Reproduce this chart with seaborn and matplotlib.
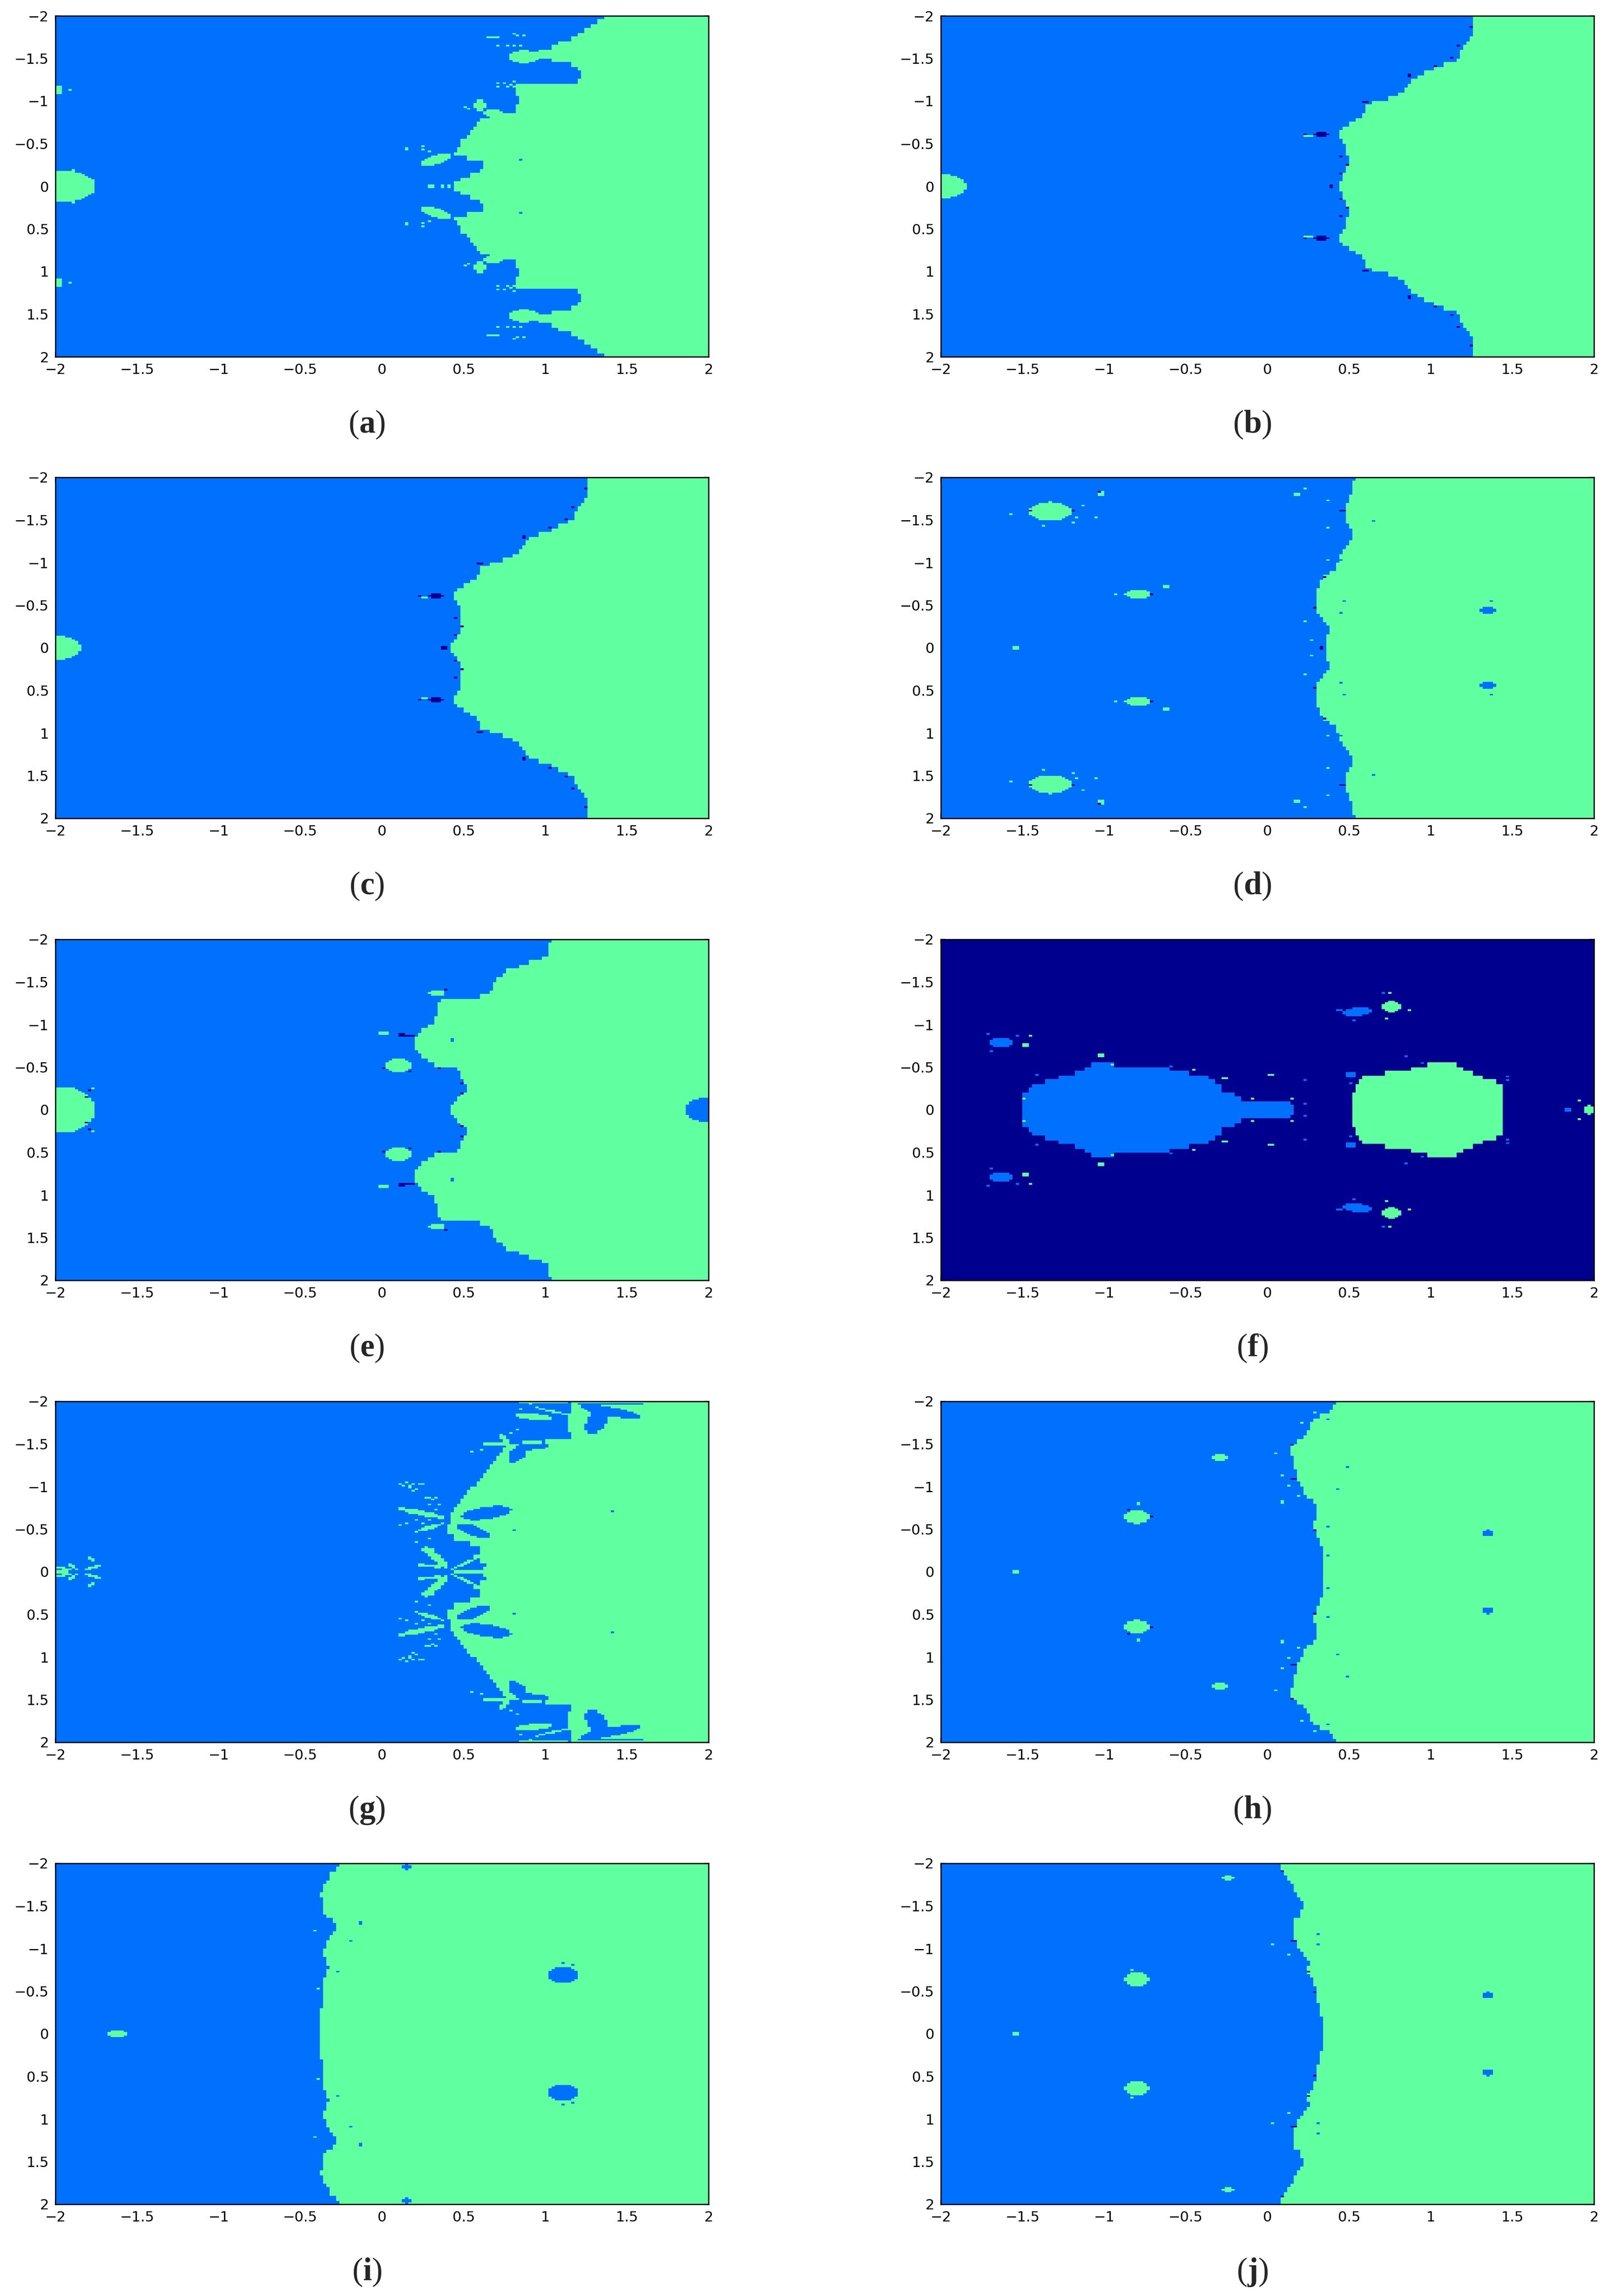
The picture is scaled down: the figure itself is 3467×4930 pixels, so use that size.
"""Ten basin-of-attraction panels drawn as seaborn heatmaps.

Every panel is symmetric about y = 0, so only the lower half is traced from the
picture and mirrored. Blue lies left of the boundary, green right of it, and
the traced blobs (x, y, half width, half height, angle) go on top.
"""

import matplotlib

matplotlib.use("Agg")
import matplotlib.pyplot as plt
import numpy as np
import seaborn as sns
from matplotlib.colors import ListedColormap

NAVY, BLUE, GREEN = 0, 1, 2
COLORS = ["#00008F", "#0070FF", "#60FF9F"]
TICKS = [-2, -1.5, -1, -0.5, 0, 0.5, 1, 1.5, 2]
LETTERS = list("abcdefghij")

# green starts at this x, one value per 0.05 of |y| from y = 0 to y = 2
boundary_a = [.44, .49, .54, .60, .63, .63, .52, .44, .46, .48, .49, .52, .54, .56, .58, .60, .66, .83, .83, .84,
              .84, .82, .82, .82, 1.21, 1.22, 1.22, 1.21, 1.17, 1.05, .96, .97, 1.05, 1.09, 1.16, 1.21, 1.25, 1.29, 1.33, 1.37]
boundary_b = [.44, .46, .47, .48, .49, .50, .50, .49, .485, .48, .47, .45, .44, .47, .51, .55, .58, .60, .61, .65,
              .74, .81, .85, .87, .89, .92, .97, 1.03, 1.09, 1.16, 1.19, 1.19, 1.21, 1.23, 1.25, 1.27, 1.27, 1.27, 1.27, 1.27]
boundary_c = [.43, .45, .47, .48, .49, .49, .49, .49, .49, .485, .47, .45, .44, .47, .51, .55, .58, .60, .61, .66,
              .74, .80, .85, .87, .89, .91, .97, 1.04, 1.09, 1.15, 1.19, 1.19, 1.20, 1.23, 1.25, 1.27, 1.27, 1.27, 1.27, 1.27]
boundary_d = [.36, .36, .37, .38, .38, .37, .35, .33, .31, .30, .30, .30, .30, .31, .32, .33, .35, .39, .42, .43,
              .44, .45, .47, .49, .51, .52, .52, .52, .50, .49, .49, .48, .48, .49, .50, .51, .52, .525, .53, .54]
boundary_e = [.43, .44, .46, .49, .52, .52, .50, .49, .49, .47, .33, .28, .25, .22, .21, .21, .21, .23, .24, .28,
              .32, .33, .34, .34, .34, .37, .60, .66, .68, .69, .71, .75, .77, .84, .90, .99, 1.02, 1.02, 1.03, 1.04]
boundary_g = [.62, .64, .60, .56, .61, .61, .55, .44, .44, .44, .44, .43, .43, .43, .44, .46, .48, .50, .53, .55,
              .58, .61, .63, .65, .66, .68, .70, .72, .74, .76, 1.0, 1.16, 1.16, 1.16, 1.16, 1.16, 1.16, 1.16, 1.17, 1.17]
boundary_h = [.35, .35, .345, .335, .335, .335, .33, .32, .30, .295, .29, .29, .30, .31, .31, .295, .28, .25, .23, .22,
              .20, .19, .18, .175, .17, .165, .16, .15, .145, .15, .18, .22, .25, .26, .27, .29, .33, .38, .41, .42]
boundary_i = [-.375, -.375, -.375, -.375, -.37, -.375, -.355, -.355, -.355, -.355, -.355, -.355, -.35, -.34, -.33, -.32, -.33, -.34, -.355, -.355,
              -.345, -.33, -.31, -.295, -.28, -.28, -.30, -.33, -.35, -.355, -.36, -.365, -.37, -.36, -.35, -.33, -.32, -.31, -.285, -.26]
boundary_j = [.34, .34, .34, .335, .33, .32, .315, .31, .305, .30, .295, .29, .275, .26, .25, .25, .255, .25, .225, .20,
              .19, .18, .17, .16, .155, .155, .17, .20, .21, .215, .215, .21, .19, .17, .155, .14, .125, .10, .08, .075]

# panel f has no boundary, two islands on navy, one span per 0.05 of |y|
blue_left_f = [-1.50, -1.49, -1.49, -1.49, -1.45, -1.43, -1.36, -1.27, -1.17, -1.12, -1.07]
blue_right_f = [.166, .144, -.16, -.20, -.27, -.28, -.315, -.36, -.47, -.60, -.93]
green_left_f = [.524, .53, .53, .53, .54, .545, .555, .59, .72, .89, .98]
green_right_f = [1.436, 1.44, 1.45, 1.45, 1.45, 1.45, 1.41, 1.32, 1.27, 1.205, 1.17]

# blobs: x, y, half width, half height, angle in degrees
green_a = [(-1.98, 0, .23, .19, 0), (-1.95, 0, .1, .185, 0), (.33, .31, .11, .045, 35), (.60, .95, .035, .07, 0),
           (.68, .86, .06, .035, 0), (.87, 1.52, .10, .075, 0), (.97, 1.56, .06, .03, 0), (-1.98, 1.13, .02, .05, 0),
           (.68, 1.75, .04, .012, 0), (.15, .44, .025, .012, 0)]
green_b = [(-2, 0, .16, .14, 0), (.25, .595, .03, .008, 0), (.32, .66, .006, .02, 0), (1.1, 1.98, .04, .01, 0)]
green_c = [(-2, 0, .16, .14, 0), (.26, .595, .03, .008, 0), (.32, .66, .006, .02, 0), (1.1, 1.98, .04, .01, 0)]
green_d = [(-1.33, 1.6, .128, .11, 0), (-.795, .63, .075, .052, 0), (-1.02, 1.81, .025, .022, 0), (-1.54, 0, .025, .015, 0),
           (-.62, .72, .018, .015, 0), (.18, 1.8, .025, .03, 0), (.08, .62, .015, .012, 0)]
green_e = [(-1.98, 0, .23, .26, 0), (-1.93, 0, .16, .26, 0), (-1.77, .24, .02, .01, 0), (.10, .52, .09, .075, 0),
           (.01, .90, .03, .025, 0), (.335, 1.37, .05, .04, 0)]
green_f = [(-1.48, .76, .03, .03, 0), (.76, 1.21, .055, .065, 0), (1.97, 0, .035, .06, 0), (-1.02, .635, .02, .025, 0),
           (.02, .41, .02, .012, 0)]
green_g = [(-1.96, 0, .04, .02, 0), (-1.95, .04, .05, .015, -20), (-1.885, .05, .06, .012, -55), (-1.77, .05, .07, .012, 30),
           (-1.78, .15, .03, .01, -60), (.53, 0, .11, .015, 0), (.51, .10, .12, .012, 40), (.29, .07, .09, .017, -8),
           (.33, .17, .15, .03, 120), (.28, .26, .04, .03, 0), (.42, .5, .012, .1, 0), (.24, .69, .15, .03, -22),
           (.29, .52, .10, .02, 30), (.47, .69, .10, .012, 70), (.69, 1.5, .09, .015, 0), (.75, 1.56, .08, .015, -67),
           (.93, 1.82, .12, .035, -10), (1.05, 1.88, .12, .01, -25), (1.16, 1.75, .012, .19, 0), (1.0, 1.99, .15, .012, 0),
           (.92, 1.52, .1, .012, 0)]
green_h = [(-.80, .645, .075, .078, 0), (-.29, 1.34, .045, .045, 0), (-1.54, 0, .025, .02, 0), (.095, .82, .015, .012, 0),
           (-.79, .80, .006, .015, 0)]
green_i = [(-1.62, 0, .055, .05, 0)]
green_j = [(-.80, .64, .075, .08, 0), (-.24, 1.83, .035, .035, 0), (-1.54, 0, .02, .02, 0), (0, 1.22, .015, .012, 0)]

blue_d = [(1.35, .44, .045, .035, 0), (.72, 1.7, .015, .012, 0)]
blue_e = [(2, 0, .14, .15, 0), (.43, .82, .012, .02, 0)]
blue_f = [(-1.63, .79, .07, .055, 0), (.55, 1.15, .09, .05, 15), (1.84, 0, .03, .03, 0), (.51, .41, .03, .035, 0)]
blue_g = [(.56, .48, .13, .05, -35), (.64, .69, .16, .07, 18), (.83, 1.38, .10, .05, 70), (.92, 1.47, .10, .04, 5),
          (1.32, 1.78, .17, .06, 75), (1.4, 1.88, .2, .05, -21), (1.4, 1.97, .2, .02, 0)]
blue_h = [(1.35, .455, .04, .035, 0), (.49, 1.23, .015, .006, 0)]
blue_i = [(1.11, .69, .09, .095, 0), (.15, 1.96, .03, .035, 0)]
blue_j = [(1.35, .455, .03, .035, 0)]

navy_b = [(-1.80, 0, .015, .012, 0), (.33, .61, .05, .025, 0), (.41, .60, .04, .006, 0), (.39, 0, .025, .012, 0),
          (.60, .99, .012, .012, 0), (.87, 1.30, .03, .012, 0)]
navy_c = [(-1.80, 0, .015, .012, 0), (.34, .61, .05, .025, 0), (.41, .60, .04, .006, 0), (.38, 0, .025, .012, 0),
          (.60, .99, .012, .012, 0), (.87, 1.30, .03, .012, 0)]
navy_d = [(.46, 1.61, .015, .012, 0), (.29, .47, .012, .012, 0)]
navy_e = [(.15, .875, .05, .012, 0), (.12, .88, .018, .018, 0)]
navy_h = [(.165, 1.09, .02, .02, 0)]
navy_j = [(.165, 1.09, .022, .004, 0)]

# single cells: x, y
green_dots_a = [(-1.92, 1.12), (.25, .47), (.28, .40), (.24, .42), (.50, .92), (.52, .90), (.29, 0), (.31, 0), (.37, 0), (.40, 0),
                (.80, 1.78), (.83, 1.76), (.86, 1.76), (.72, 1.65), (.76, 1.65), (.80, 1.65), (.85, 1.65), (.70, 1.21),
                (.74, 1.21), (.78, 1.19), (.80, 1.22), (.72, 1.18), (.76, 1.18), (.80, 1.17), (.75, 1.2), (-1.9, .18)]
green_dots_d = [(-1.57, 1.56), (-1.14, 1.67), (-1.05, 1.53), (-1.17, 1.53), (-1.2, 1.47), (-1.38, 1.42), (-.93, .62), (.23, 1.87),
                (.23, .3), (.27, .08), (.37, 1.72), (.37, 1.4), (.37, 1.02)]
green_dots_f = [(-1.45, .86), (-1.5, .12), (.74, 1.37), (.87, 1.18), (.73, 1.07), (.14, .13), (-.09, .13), (-.25, .36), (-.27, .37),
                (1.9, .1), (-.95, .53), (-.46, .47), (.03, .4)]
green_dots_g = [(.10, 1.03), (.13, 1.0), (.16, .98), (.18, 1.02), (.15, 1.05), (.20, .97), (.22, 1.03), (.17, 1.0), (.25, 1.02),
                (.18, .95), (.27, .86), (.31, .85), (.34, .87), (.29, .87), (.14, .58), (.2, .6), (.25, .58), (.3, .61),
                (.1, .55), (.2, .35), (.3, .38), (.33, .73), (.36, .78), (.28, .78), (.55, .98), (.58, 1.0), (.6, 1.08),
                (.63, 1.15), (.66, 1.2), (.55, 1.4), (.6, 1.42), (.82, 1.67), (.78, 1.62), (.9, 1.97), (.85, 1.9)]
green_dots_h = [(.04, 1.39), (.21, 1.75), (.29, 1.87), (.08, 1.14), (.13, 1.01), (.18, .88)]
green_dots_i = [(-.42, 1.2), (-.39, .52)]
green_dots_j = [(.12, .94), (.03, 1.04), (.12, 1.93), (-.84, .75)]

blue_dots_a = [(1.08, 1.36), (1.1, 1.33), (.85, .3)]
blue_dots_d = [(.65, 1.48), (1.37, .55), (.45, .4), (.46, .55), (.45, 1.02)]
blue_dots_f = [(-1.71, .89), (-1.69, .68), (-1.53, .87), (.53, 1.05), (.43, 1.18), (.45, 1.18), (.85, .62), (.22, .35), (.22, .07),
               (-.59, .5), (-1.42, .25), (-1.42, .4), (1.46, .35), (1.46, .38), (.5, .3), (.95, .55), (.72, 1.36), (.70, 1.36)]
blue_dots_g = [(.8, .48), (1.0, 1.75), (1.4, .7), (.55, .55)]
blue_dots_h = [(.37, .52), (.38, .18), (.42, .96), (.37, 1.78)]
blue_dots_i = [(-.13, 1.29), (-.13, 1.31), (-.2, 1.08), (-.27, .72), (1.1, .82), (1.18, .81)]
blue_dots_j = [(.31, 1.18), (.31, 1.04)]

navy_dots_b = [(.45, .15), (.45, .35), (.49, .24), (1.03, 1.4), (1.13, 1.5), (1.16, 1.65), (1.25, 1.86), (.23, .6)]
navy_dots_c = [(.45, .15), (.45, .35), (.48, .24), (1.03, 1.4), (1.13, 1.5), (1.16, 1.65), (1.25, 1.86), (.23, .6)]
navy_dots_d = [(.34, 0), (-1.2, 1.6), (-1.03, 1.83), (-1.46, 1.6), (-.72, .63), (.35, .82)]
navy_dots_e = [(-1.78, .22), (-1.8, .15), (.17, .45), (.35, .49), (.0, .48), (.39, 1.41), (.48, .19), (.49, .3)]
navy_dots_h = [(.14, 1.49), (.29, .48), (-.85, .72), (-.72, .64)]
navy_dots_j = [(.29, .48), (.25, .73), (.08, 1.9)]

# half grid of cell centres, y is mirrored later
x_cells = np.arange(-1.99, 2, 0.02)
y_cells = np.arange(0.01, 2, 0.02)
XX, YY = np.meshgrid(x_cells, y_cells)


def stamp_blobs(half, blobs, code):
    for x0, y0, rx, ry, angle in blobs:
        t = np.deg2rad(angle)
        u = (XX - x0) * np.cos(t) + (YY - y0) * np.sin(t)
        w = -(XX - x0) * np.sin(t) + (YY - y0) * np.cos(t)
        half[(u / rx) ** 2 + (w / ry) ** 2 <= 1] = code


def stamp_dots(half, dots, code):
    for x0, y0 in dots:
        row = min(int(y0 / 0.02), len(y_cells) - 1)
        col = min(int((x0 + 2) / 0.02), len(x_cells) - 1)
        half[row, col] = code


def stamp_spans(half, lefts, rights, code):
    for i, (left, right) in enumerate(zip(lefts, rights)):
        rows = (YY >= i * 0.05) & (YY < (i + 1) * 0.05)
        half[rows & (XX >= left) & (XX <= right)] = code


def build_grid(boundary=None, green=(), blue=(), navy=(), green_dots=(), blue_dots=(), navy_dots=(), spans=()):
    if boundary is None:
        half = np.full(XX.shape, NAVY)
    else:
        edges = np.array(boundary)[(YY / 0.05).astype(int)]
        half = np.where(XX < edges, BLUE, GREEN)
    for lefts, rights, code in spans:
        stamp_spans(half, lefts, rights, code)
    stamp_blobs(half, blue, BLUE)
    stamp_blobs(half, green, GREEN)
    stamp_blobs(half, navy, NAVY)
    stamp_dots(half, blue_dots, BLUE)
    stamp_dots(half, green_dots, GREEN)
    stamp_dots(half, navy_dots, NAVY)
    return np.vstack([half[::-1], half])


def draw_panel(fig, grid, letter, left_px, top_px):
    width, height = fig.get_size_inches() * fig.dpi
    ax = fig.add_axes([left_px / width, 1 - (top_px + 732) / height, 1403 / width, 732 / height])
    sns.heatmap(grid, ax=ax, cmap=ListedColormap(COLORS), vmin=0, vmax=2, cbar=False,
                xticklabels=False, yticklabels=False)
    positions = [(t + 2) / 0.02 for t in TICKS]
    labels = [f"{t:g}".replace("-", "\u2212") for t in TICKS]
    ax.set_xticks(positions, labels)
    ax.set_yticks(positions, labels, rotation=0)
    ax.tick_params(direction="in", length=7.5, width=1.5, pad=10, labelsize=22,
                   top=True, right=True, bottom=True, left=True, colors="black")
    for spine in ax.spines.values():
        spine.set_visible(True)
        spine.set_linewidth(1.9)
        spine.set_color("black")
    fig.text((left_px + 701 - 32) / width, 1 - (top_px + 732 + 146) / height,
             "(" + rf"$\mathbf{{{letter}}}$" + ")", ha="center", va="center",
             fontsize=50, family="Liberation Serif")


def main():
    sns.set_theme(style="white")
    plt.rcParams["font.family"] = ["DejaVu Sans"]
    plt.rcParams["mathtext.fontset"] = "custom"
    plt.rcParams["mathtext.rm"] = "Liberation Serif"
    plt.rcParams["mathtext.bf"] = "Liberation Serif:bold"

    grids = [
        build_grid(boundary_a, green_a, green_dots=green_dots_a, blue_dots=blue_dots_a),
        build_grid(boundary_b, green_b, navy=navy_b, navy_dots=navy_dots_b),
        build_grid(boundary_c, green_c, navy=navy_c, navy_dots=navy_dots_c),
        build_grid(boundary_d, green_d, blue_d, navy_d, green_dots_d, blue_dots_d, navy_dots_d),
        build_grid(boundary_e, green_e, blue_e, navy_e, navy_dots=navy_dots_e),
        build_grid(None, green_f, blue_f, green_dots=green_dots_f, blue_dots=blue_dots_f,
                   spans=[(blue_left_f, blue_right_f, BLUE), (green_left_f, green_right_f, GREEN)]),
        build_grid(boundary_g, green_g, blue_g, green_dots=green_dots_g, blue_dots=blue_dots_g),
        build_grid(boundary_h, green_h, blue_h, navy_h, green_dots_h, blue_dots_h, navy_dots_h),
        build_grid(boundary_i, green_i, blue_i, green_dots=green_dots_i, blue_dots=blue_dots_i),
        build_grid(boundary_j, green_j, blue_j, navy_j, green_dots_j, blue_dots_j, navy_dots_j),
    ]

    fig = plt.figure(figsize=(34.67, 49.30), dpi=100, facecolor="white")
    tops = [34, 1025, 2017, 3009, 4001]
    lefts = [119, 2021]
    for i, (grid, letter) in enumerate(zip(grids, LETTERS)):
        draw_panel(fig, grid, letter, lefts[i % 2], tops[i // 2])
    fig.savefig("out.png", dpi=100)


if __name__ == "__main__":
    main()
